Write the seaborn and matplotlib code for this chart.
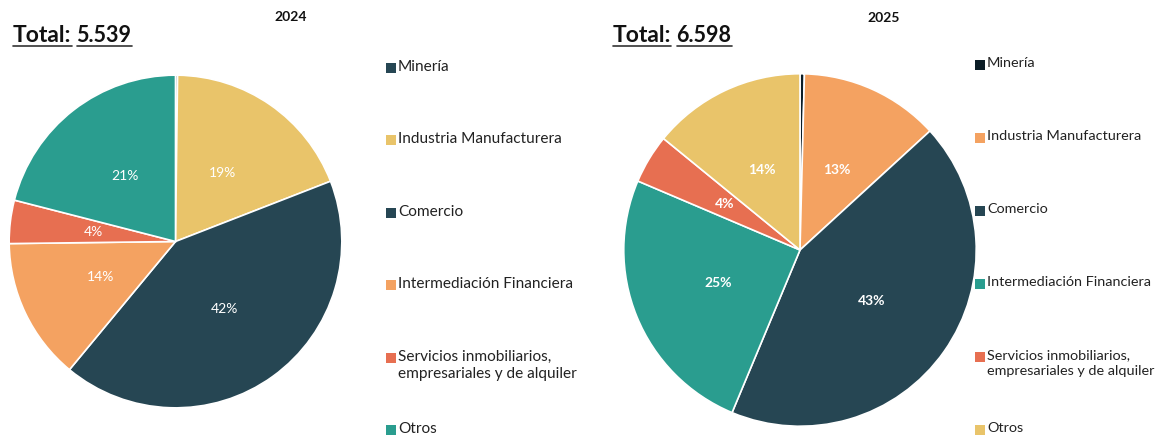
import numpy as np
import seaborn as sns
import matplotlib.pyplot as plt
from matplotlib.patches import Rectangle
from matplotlib.lines import Line2D

# --- data (shares in %) ---
sectors = ["Minería", "Industria Manufacturera", "Comercio",
           "Intermediación Financiera",
           "Servicios inmobiliarios,\nempresariales y de alquiler", "Otros"]
shares_2024 = [0.2, 18.9, 41.9, 13.8, 4.2, 21.0]
shares_2025 = [0.4, 12.8, 43.1, 25.1, 4.5, 14.1]
colors_2024 = ["#264653", "#E9C46A", "#264653", "#F4A261", "#E76F51", "#2A9D8F"]
colors_2025 = ["#0B1D26", "#F4A261", "#264653", "#2A9D8F", "#E76F51", "#E9C46A"]
totals = ["5.539", "6.598"]
years = ["2024", "2025"]

sns.set_theme(style="white")
plt.rcParams["font.family"] = ["Lato", "DejaVu Sans"]

W, H = 1160, 440
fig = plt.figure(figsize=(W / 100, H / 100), dpi=100)


def px_axes(cx, cy, r):
    return fig.add_axes([(cx - r) / W, (H - cy - r) / H, 2 * r / W, 2 * r / H])


def draw_pie(ax, shares, colors, bold):
    ax.pie(shares, colors=colors, startangle=90, counterclock=False,
           radius=1, pctdistance=0.5,
           autopct=lambda p: f"{p:.0f}%" if p >= 1 else "",
           wedgeprops=dict(edgecolor="white", linewidth=1.2),
           textprops=dict(color="white", fontsize=10,
                          fontweight="bold" if bold else "normal"))
    ax.set_xlim(-1.01, 1.01)
    ax.set_ylim(-1.01, 1.01)
    ax.set_axis_off()


def draw_legend(x0, y_top, y_bot, colors, size):
    ys = np.linspace(y_top, y_bot, len(sectors))
    for y, c, lab in zip(ys, colors, sectors):
        fig.add_artist(Rectangle((x0 / W, (H - y - 5) / H), 10 / W, 10 / H,
                                 transform=fig.transFigure, facecolor=c,
                                 edgecolor="none"))
        fig.text((x0 + 12) / W, (H - y + 8) / H, lab, ha="left", va="top",
                 fontsize=size, color="#222222", linespacing=1.35)


ax1 = px_axes(175.5, 241.5, 168)
draw_pie(ax1, shares_2024, colors_2024, bold=False)
ax2 = px_axes(800, 250, 178)
draw_pie(ax2, shares_2025, colors_2025, bold=True)

draw_legend(386, 68, 430, colors_2024, 11.1)
draw_legend(975, 65, 430, colors_2025, 10.4)

# year titles
fig.text(291 / W, 1 - 17 / H, years[0], ha="center", va="center",
         fontsize=10, fontweight="bold", color="#111111")
fig.text(884 / W, 1 - 18 / H, years[1], ha="center", va="center",
         fontsize=10, fontweight="bold", color="#111111")

# "Total:" headers with underlines
fig.canvas.draw()
renderer = fig.canvas.get_renderer()
for x0, total in [(13, totals[0]), (613, totals[1])]:
    t1 = fig.text(x0 / W, 1 - 42 / H, "Total:", ha="left", va="baseline",
                  fontsize=16.5, fontweight="bold", color="#111111")
    bb1 = t1.get_window_extent(renderer)
    t2 = fig.text((bb1.x1 + 5) / W, 1 - 42 / H, total, ha="left",
                  va="baseline", fontsize=15.5, fontweight="bold",
                  color="#111111")
    bb2 = t2.get_window_extent(renderer)
    for bb in (bb1, bb2):
        fig.add_artist(Line2D([bb.x0 / W, bb.x1 / W], [1 - 46 / H, 1 - 46 / H],
                              transform=fig.transFigure, color="#333333",
                              linewidth=1.2))

fig.savefig("out.png", dpi=100)
